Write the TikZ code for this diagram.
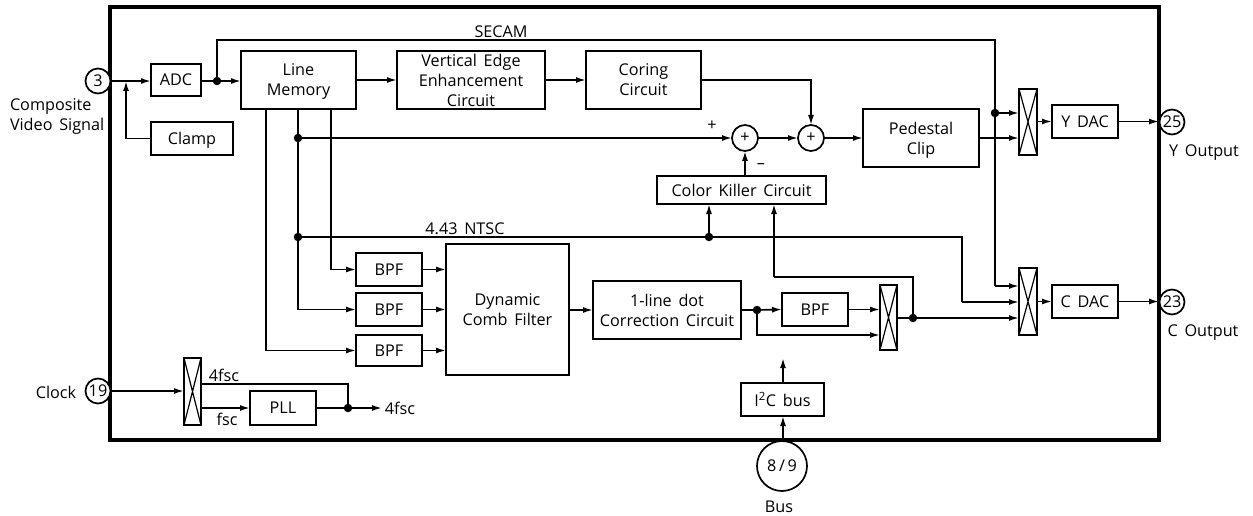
\documentclass[tikz,border=0pt]{standalone}
\usepackage{fontspec}
\setmainfont[WordSpace=1.6]{Open Sans}
\usetikzlibrary{arrows.meta,calc}
\newcommand{\bx}[6][blk]{%
  \pgfmathsetmacro{\cxx}{(#3+#5)/2}\pgfmathsetmacro{\cyy}{(#4+#6)/2}%
  \pgfmathsetmacro{\wdd}{#5-#3}\pgfmathsetmacro{\htt}{#6-#4}%
  \node[#1,minimum width=\wdd pt,minimum height=\htt pt] (#2) at (\cxx,\cyy)}
\tikzset{
  x=1pt,y=-1pt,
  every node/.style={font=\fontsize{16.2}{20}\selectfont,inner sep=0pt,outer sep=0pt,text depth=0pt},
  blk/.style={draw,line width=1.7pt,fill=white,align=center},
  swt/.style={draw,line width=1.7pt,fill=white,
    path picture={\draw[line width=1.2pt]
      (path picture bounding box.north west)--(path picture bounding box.south east)
      (path picture bounding box.north east)--(path picture bounding box.south west);}},
  pin/.style={draw,circle,line width=1.7pt,fill=white,minimum size=25pt},
  sumc/.style={draw,circle,line width=1.7pt,fill=white,minimum size=26pt},
  dotc/.style={circle,fill=black,minimum size=8.5pt},
  wire/.style={line width=1.7pt},
  arr/.style={line width=1.7pt,-{Latex[length=10pt,width=6pt]}},
  lbl/.style={align=center},
}
\begin{document}
\begin{tikzpicture}
\useasboundingbox (0,0) rectangle (1253,516);
\node[draw,line width=3.5pt,minimum width=1049pt,minimum height=433pt] (chip) at (634.5,223.5) {};

% pins
\node[pin] (p3) at (98,81) {3};
\node[pin] (p19) at (98,391) {19};
\node[pin] (p25) at (1172,122) {25};
\node[pin] (p23) at (1172,302) {23};
\node[pin,minimum size=50pt] (p89) at (782,466) {8\,/\,9};

% blocks
\bx{adc}{151}{64}{201}{96} {ADC};
\bx{clamp}{151}{122}{233}{155} {Clamp};
\bx{lm}{241}{51}{356}{109} {Line\\Memory};
\bx{vee}{397}{51}{545}{109} {\fontsize{16.2}{16.5}\selectfont Vertical Edge\\Enhancement\\Circuit};
\bx{cor}{586}{51}{701}{109} {Coring\\Circuit};
\bx{ped}{863}{109}{979}{167} {Pedestal\\Clip};
\bx{ck}{657}{176}{826}{204} {Color Killer Circuit};
\bx{ydac}{1052}{105}{1118}{138} {Y DAC};
\bx{cdac}{1052}{285}{1118}{318} {C DAC};
\bx{bpfa}{356}{253}{422}{286} {BPF};
\bx{bpfb}{356}{293}{422}{326} {BPF};
\bx{bpfc}{356}{335}{422}{366} {BPF};
\bx{dcf}{446}{244}{569}{375} {Dynamic\\Comb Filter};
\bx{ldc}{593}{281}{741}{339} {1-line dot\\Correction Circuit};
\bx{bpfd}{782}{293}{848}{326} {BPF};
\bx{pll}{250}{391}{316}{425} {PLL};
\bx{iic}{741}{383}{824}{416} {I\textsuperscript{2}C bus};
\bx[swt]{swy}{1019}{89}{1037}{155} {};
\bx[swt]{swc}{1019}{268}{1037}{335} {};
\bx[swt]{swb}{880}{285}{897}{350} {};
\bx[swt]{swk}{184}{358}{201}{425} {};

% summing junctions
\node[sumc] (s1) at (745,138) {+};
\node[sumc] (s2) at (811,138) {+};

% junction dots
\node[dotc] (dadc) at (217,81) {};
\node[dotc] (dyy) at (298,138) {};
\node[dotc] (dnt) at (298,237) {};
\node[dotc] (dck) at (709,237) {};
\node[dotc] (dsc) at (995,113) {};
\node[dotc] (dbp) at (757,310) {};
\node[dotc] (dsb) at (913,318) {};
\node[dotc] (dpl) at (348,408) {};

% free ends
\coordinate (cl) at (126,81);
\coordinate (pllout) at (382,408);
\coordinate (iicout) at (783,358);
\coordinate (ntsc) at (962,237);
\coordinate (ntscb) at (962,302);
\coordinate (secl) at (217,40);
\coordinate (secr) at (995,40);
\coordinate (sece) at (995,286);
\coordinate (ckv) at (774,277);
\coordinate (lma) at (331,109);
\coordinate (lmb) at (298,109);
\coordinate (lmc) at (266,109);
\coordinate (k4) at (201,384);
\coordinate (k1) at (201,408);

% connectors
\draw[arr] (chip.west |- p3) -- (adc.west |- p3);
\draw[arr] (clamp.west) -| (cl);
\draw[wire] (adc.east |- dadc) -- (dadc);
\draw[arr] (dadc) -- (lm.west |- dadc);
\draw[wire] (dadc) -- (secl) -- (secr) -- (sece);
\draw[arr] (sece) -- (swc.west |- sece);
\draw[arr] (lm.east |- adc) -- (vee.west |- adc);
\draw[arr] (vee.east |- adc) -- (cor.west |- adc);
\draw[arr] (cor.east |- adc) -| (s2.north);
\draw[arr] (dyy) -- (s1.west);
\draw[arr] (s1.east) -- (s2.west);
\draw[arr] (s2.east) -- (ped.west);
\draw[arr] (ped.east) -- (swy.west |- ped.east);
\draw[arr] (dsc) -- (swy.west |- dsc);
\draw[arr] (swy.east |- ydac) -- (ydac.west);
\draw[arr] (ydac.east) -- (chip.east |- ydac);
\draw[arr] (ck.north -| s1) -- (s1.south);
\draw[arr] (dck) -- (ck.south -| dck);
\draw[arr] (ckv) -- (ck.south -| ckv);
\draw[wire] (ckv) -- (ckv -| dsb) -- (dsb);
\draw[wire] (lmb) -- (dnt);
\draw[wire] (dnt) -- (ntsc) -- (ntscb);
\draw[arr] (ntscb) -- (swc.west |- ntscb);
\draw[arr] (dsb) -- (swc.west |- dsb);
\draw[wire] (swb.east |- dsb) -- (dsb);
\draw[arr] (swc.east |- cdac) -- (cdac.west);
\draw[arr] (cdac.east) -- (chip.east |- cdac);
\draw[arr] (lma) |- (bpfa.west);
\draw[arr] (dnt) |- (bpfb.west);
\draw[arr] (lmc) |- (bpfc.west);
\draw[arr] (bpfa.east) -- (dcf.west |- bpfa.east);
\draw[arr] (bpfb.east) -- (dcf.west |- bpfb.east);
\draw[arr] (bpfc.east) -- (dcf.west |- bpfc.east);
\draw[arr] (dcf.east |- ldc) -- (ldc.west);
\draw[wire] (ldc.east) -- (dbp);
\draw[arr] (dbp) -- (bpfd.west);
\draw[arr] (dbp) |- (swb.west |- 0,335);
\draw[arr] (bpfd.east) -- (swb.west |- bpfd.east);
\draw[arr] (chip.west |- p19) -- (swk.west |- p19);
\draw[wire] (k4) -| (dpl);
\draw[arr] (k1) -- (pll.west |- k1);
\draw[wire] (pll.east |- dpl) -- (dpl);
\draw[arr] (dpl) -- (pllout);
\draw[arr] (iic.north -| iicout) -- (iicout);
\draw[arr] (chip.south -| iicout) -- (iic.south -| iicout);

% labels
\node[anchor=west,align=left] (tcomp) at (10,114.5) {Composite\\Video Signal};
\node (tclock) at (56,392) {Clock};
\node (tsec) at (501,32) {SECAM};
\node (tnt) at (465,229) {4.43 NTSC};
\node (tplus) at (712,126) {+};
\node (tminus) at (761,166) {–};
\node (tyo) at (1204,151) {Y Output};
\node (tco) at (1203,331) {C Output};
\node (t4a) at (224,375) {4fsc};
\node (tf) at (227,419) {fsc};
\node (t4b) at (400,408) {4fsc};
\node (tbus) at (779,507) {Bus};
\end{tikzpicture}
\end{document}
